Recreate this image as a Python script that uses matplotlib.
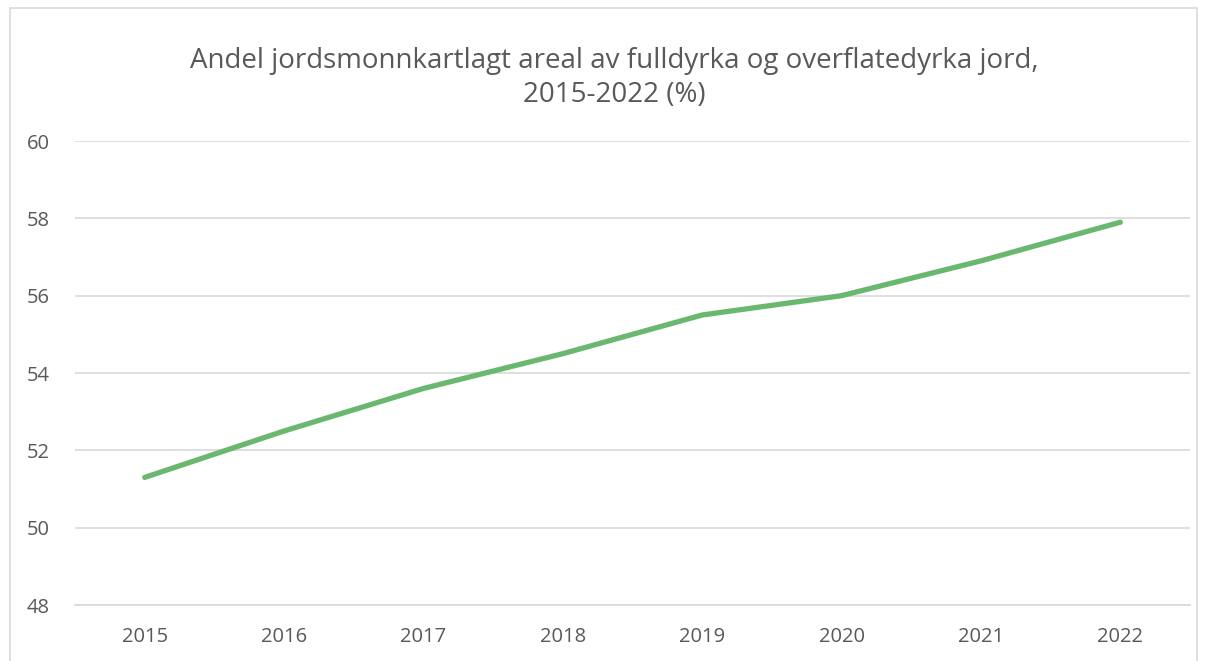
import matplotlib.pyplot as plt
from matplotlib.patches import Rectangle

# Andel jordsmonnkartlagt areal (%)
years = ['2015', '2016', '2017', '2018', '2019', '2020', '2021', '2022']
andel = [51.3, 52.5, 53.6, 54.5, 55.5, 56.0, 56.9, 57.9]

W, H = 1208, 661

plt.rcParams['font.family'] = ['Open Sans', 'DejaVu Sans']

fig = plt.figure(figsize=(W / 100, H / 100), dpi=100)

# chart frame
fig.patches.append(Rectangle((10 / W, -0.05), 1187 / W, 1.05 - 8 / H,
                             transform=fig.transFigure, fill=False,
                             edgecolor='#D9D9D9', linewidth=1.2))

ax = fig.add_axes([75 / W, 1 - 605 / H, (1190 - 75) / W, (605 - 141) / H])

x = list(range(len(years)))
ax.plot(x, andel, color='#6AB86F', linewidth=3.8, solid_capstyle='round',
        solid_joinstyle='round')

ax.set_xlim(-0.5, len(years) - 0.5)
ax.set_ylim(48, 60)
ax.set_yticks(range(48, 61, 2))
ax.set_xticks(x)
ax.set_xticklabels(years)

ax.grid(axis='y', color='#D9D9D9', linewidth=1.2)
ax.set_axisbelow(True)
for s in ['top', 'right', 'left']:
    ax.spines[s].set_visible(False)
ax.spines['bottom'].set_color('#D9D9D9')
ax.spines['bottom'].set_linewidth(1.2)

ax.tick_params(length=0, labelsize=14.5, labelcolor='#595959')
ax.tick_params(axis='y', pad=18)
ax.tick_params(axis='x', pad=16)

fig.text(614 / W, 1 - 78 / H,
         'Andel jordsmonnkartlagt areal av fulldyrka og overflatedyrka jord,\n2015-2022 (%)',
         ha='center', va='center', fontsize=20, color='#595959', linespacing=1.3)

plt.savefig('out.png', dpi=100)
